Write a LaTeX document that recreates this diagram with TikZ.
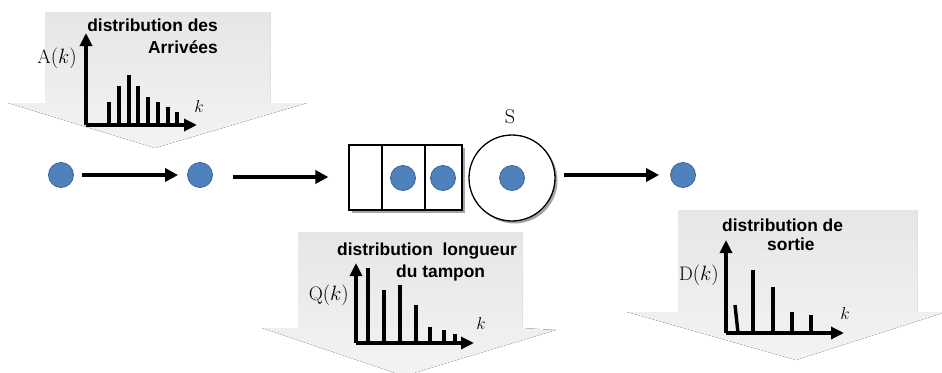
\documentclass[tikz,border=0pt]{standalone}
\usepackage{fontspec}
\newfontfamily\labfont{Liberation Sans}
\usetikzlibrary{arrows.meta}
\definecolor{ballblue}{HTML}{4F81BD}
\definecolor{balledge}{HTML}{3A6496}
\definecolor{panelgray}{HTML}{E6E6E6}
\definecolor{panellight}{HTML}{F3F3F3}
\tikzset{
  panel/.style={top color=panelgray, bottom color=panellight, draw=none},
  ball/.style={circle, fill=ballblue, draw=balledge, line width=0.8pt, minimum size=25pt, inner sep=0pt},
  flow/.style={line width=4pt, -{Triangle[length=13pt,width=13pt]}},
  axis/.style={line width=3.2pt, -{Triangle[length=13pt,width=12pt]}},
  bar/.style={line width=3.4pt},
  title/.style={font=\labfont\bfseries\fontsize{17.4}{20}\selectfont, inner sep=0pt},
  fn/.style={font=\fontsize{19.5}{22}\selectfont, inner sep=0pt},
  kx/.style={font=\fontsize{18}{20}\selectfont, inner sep=0pt},
  cellbox/.style={draw=black, line width=1.2pt, fill=white},
}
\begin{document}
\begin{tikzpicture}[x=1pt,y=-1pt]
\useasboundingbox (0,0) rectangle (942,372);

% ---- block arrows carrying the distributions ----
\fill[panel] (45,12) -- (270,12) -- (270,103) -- (307,103) -- (155,148)
  -- (8,103) -- (45,103) -- cycle;
\fill[panel] (298,232) -- (522,232) -- (522,328) -- (556,330) -- (404,376)
  -- (262,328) -- (298,328) -- cycle;
\fill[panel] (678,210) -- (917,210) -- (917,312) -- (946,312) -- (796,360)
  -- (627,312) -- (678,312) -- cycle;

% ---- arrival distribution A(k) ----
\draw[axis] (86,125) -- (86,33);
\draw[axis] (86,125) -- (197,125);
\foreach \x/\t in {109/102,119/86,129/75,138/86,148/97,158/102,168/107,177/112}
  \draw[bar] (\x,125) -- (\x,\t);
\node[title, anchor=base east] (ta1) at (218,31) {distribution des};
\node[title, anchor=base east] (ta2) at (218,53) {Arrivées};
\node[fn, anchor=east] (la) at (77,58) {$\mathrm{A}(k)$};
\node[kx] (ka) at (199,106) {$k$};

% ---- buffer length distribution Q(k) ----
\draw[axis] (356,343) -- (356,263);
\draw[axis] (356,343) -- (474,343);
\foreach \x/\t in {368/268,384/290,400/285,416/305,430/327,444/330,455/334}
  \draw[bar] (\x,343) -- (\x,\t);
\node[title, anchor=base west] (tq1) at (337,255) {distribution\ \ longueur};
\node[title, anchor=base west] (tq2) at (396,277) {du tampon};
\node[fn, anchor=east] (lq) at (349,295) {$\mathrm{Q}(k)$};
\node[kx] (kq) at (481,323) {$k$};

% ---- output distribution D(k) ----
\draw[axis] (726,333) -- (726,240);
\draw[axis] (726,333) -- (844,333);
\draw[bar] (738,333) -- (735,305);
\foreach \x/\t in {753/270,773/287,792/312,811/315}
  \draw[bar] (\x,333) -- (\x,\t);
\node[title, anchor=base west] (td1) at (722,231) {distribution de};
\node[title, anchor=base west] (td2) at (767,250) {sortie};
\node[fn, anchor=east] (ld) at (719,275) {$\mathrm{D}(k)$};
\node[kx] (kd) at (845,313) {$k$};

% ---- queue and server ----
\fill[black!35] (352,148) rectangle (465,213);
\node[cellbox, minimum width=33pt, minimum height=65pt, inner sep=0pt] (c1) at (365.5,177.5) {};
\node[cellbox, minimum width=43pt, minimum height=65pt, inner sep=0pt] (c2) at (403.5,177.5) {};
\node[cellbox, minimum width=37pt, minimum height=65pt, inner sep=0pt] (c3) at (443.5,177.5) {};
\fill[black!35] (514.5,180.5) circle (43pt);
\node[circle, draw=black, line width=1.3pt, fill=white, minimum size=86pt, inner sep=0pt] (srv) at (512,178) {};
\node[ball] (q1) at (403,178) {};
\node[ball] (q2) at (443,178) {};
\node[ball] (s1) at (512,178) {};
\node[font=\fontsize{20}{22}\selectfont, inner sep=0pt] (slab) at (510,117) {S};

% ---- customers and flow ----
\node[ball] (b1) at (61,175) {};
\node[ball] (b2) at (200,175) {};
\node[ball] (b3) at (683,175) {};
\draw[flow, shorten <=8pt, shorten >=9pt] (b1) -- (b2);
\draw[flow, shorten <=20pt, shorten >=20pt] (b2.east) ++(0,2) coordinate (b2o) (b2o) -- (c1.west |- b2o);
\draw[flow, shorten <=8pt, shorten >=11pt] (srv.east |- b3) -- (b3);
\end{tikzpicture}
\end{document}
